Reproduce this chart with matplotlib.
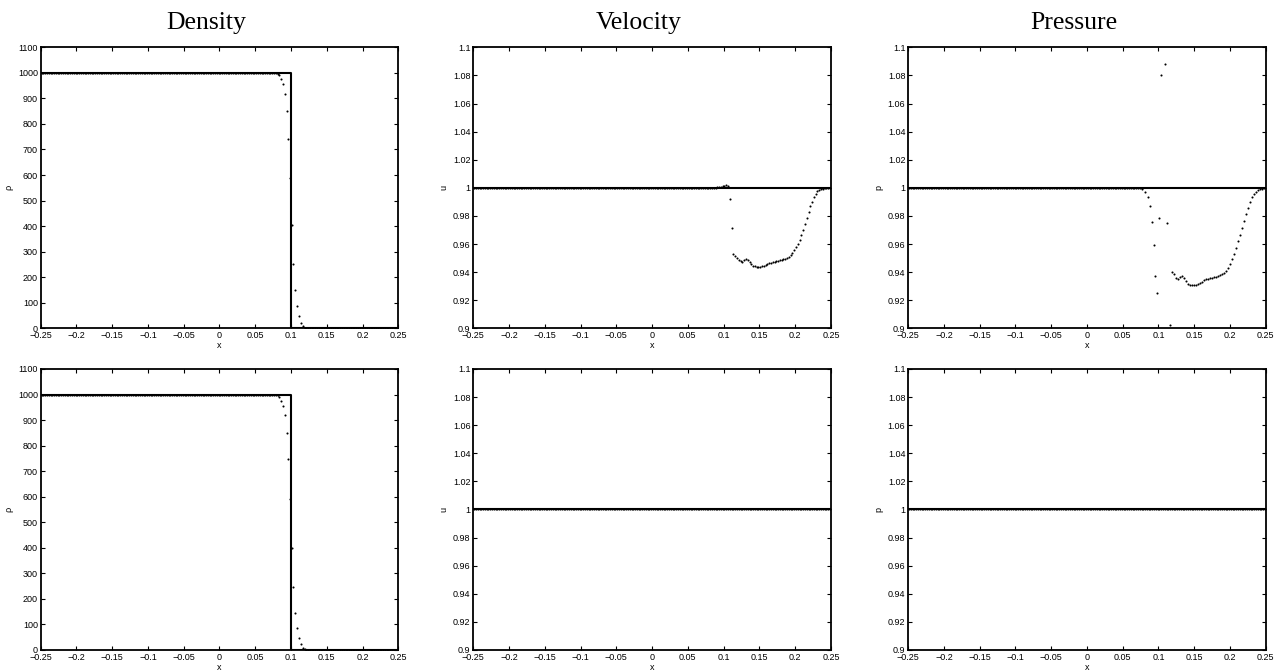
import numpy as np
import matplotlib.pyplot as plt

plt.rcParams['font.family'] = ['Liberation Sans', 'DejaVu Sans']

# mesh of cell centres (flat parts of the numerical solution)
grid = np.linspace(-0.24875, 0.24875, 200)

xticks = [-0.25, -0.2, -0.15, -0.1, -0.05, 0, 0.05, 0.1, 0.15, 0.2, 0.25]
rho_ticks = [0, 100, 200, 300, 400, 500, 600, 700, 800, 900, 1000, 1100]
one_ticks = [0.9, 0.92, 0.94, 0.96, 0.98, 1.0, 1.02, 1.04, 1.06, 1.08, 1.1]

# exact solutions
rho_exact_x = [-0.25, 0.1, 0.1, 0.25]
rho_exact = [1000, 1000, 0, 0]
one_exact_x = [-0.25, 0.25]
one_exact = [1, 1]

# density, shock region (row 1 and row 2)
rho_x = [0.0813, 0.0838, 0.0860, 0.0885, 0.0913, 0.0940, 0.0964, 0.0987, 0.1011,
         0.1034, 0.1060, 0.1085, 0.1110, 0.1137, 0.1165, 0.1190, 0.1215]
rho_top = [997, 990, 975, 955, 916, 849, 743, 590, 403, 250, 149, 86, 47, 21, 8, 3, 1]
rho_bot = [997, 990, 976, 956, 918, 851, 746, 590, 400, 246, 146, 85, 48, 23, 9, 3, 1]

# velocity, row 1
vel_x = [0.09125, 0.09375, 0.09625, 0.09875, 0.10125, 0.10375, 0.10625, 0.10875,
         0.11125, 0.11375, 0.11625, 0.11875, 0.12125, 0.12375, 0.12625, 0.12875,
         0.13125, 0.13375, 0.13625, 0.13875, 0.14125, 0.14375, 0.14625, 0.14875,
         0.15125, 0.15375, 0.15625, 0.15875, 0.16125, 0.16375, 0.16625, 0.16875,
         0.17125, 0.17375, 0.17625, 0.17875, 0.18125, 0.18375, 0.18625, 0.18875,
         0.19125, 0.19375, 0.19625, 0.19875, 0.20125, 0.20375, 0.20625, 0.20875,
         0.21125, 0.21375, 0.21625, 0.21875, 0.22125, 0.22375, 0.22625, 0.22875,
         0.23125, 0.23375, 0.23625, 0.23875, 0.24125, 0.24375, 0.24625, 0.24875]
vel_top = [1.0005, 1.0007, 1.0008, 1.0010, 1.0013, 1.0022, 1.0011, 0.9920,
           0.9715, 0.9530, 0.9515, 0.9498, 0.9486, 0.9478, 0.9475, 0.9487,
           0.9494, 0.9489, 0.9473, 0.9457, 0.9446, 0.9440, 0.9438, 0.9437,
           0.9438, 0.9441, 0.9446, 0.9452, 0.9458, 0.9463, 0.9467, 0.9471,
           0.9474, 0.9478, 0.9481, 0.9485, 0.9488, 0.9492, 0.9496, 0.9501,
           0.9510, 0.9522, 0.9537, 0.9556, 0.9578, 0.9603, 0.9632, 0.9666,
           0.9702, 0.9743, 0.9788, 0.9830, 0.9868, 0.9902, 0.9933, 0.9957,
           0.9974, 0.9984, 0.9990, 0.9994, 0.9996, 0.9998, 0.9999, 1.0000]

# pressure, row 1
prs_x = [0.0765, 0.0812, 0.0849, 0.0887, 0.0910, 0.0934, 0.0958, 0.0986, 0.1014,
         0.1037, 0.1093, 0.1113, 0.1159, 0.1187, 0.1215, 0.1244, 0.1272, 0.1300,
         0.1328, 0.1356, 0.1385, 0.1413, 0.1441, 0.1469, 0.1497, 0.1525, 0.1554,
         0.1582, 0.1610, 0.1638, 0.1666, 0.1694, 0.1723, 0.1751, 0.1779, 0.1807,
         0.1835, 0.1863, 0.1892, 0.1920, 0.1948, 0.1976, 0.2004, 0.2032, 0.2061,
         0.2089, 0.2117, 0.2145, 0.2173, 0.2201, 0.2230, 0.2258, 0.2286, 0.2314,
         0.2342, 0.2370, 0.2398, 0.2426, 0.2454, 0.2482]
prs_top = [0.9991, 0.9972, 0.9932, 0.9870, 0.9759, 0.9591, 0.9372, 0.9253, 0.9787,
           1.0805, 1.0879, 0.9747, 0.9026, 0.9403, 0.9384, 0.9360, 0.9353, 0.9367,
           0.9375, 0.9356, 0.9335, 0.9315, 0.9310, 0.9308, 0.9308, 0.9310, 0.9315,
           0.9322, 0.9332, 0.9342, 0.9349, 0.9353, 0.9358, 0.9360, 0.9365, 0.9367,
           0.9375, 0.9379, 0.9386, 0.9396, 0.9410, 0.9429, 0.9458, 0.9491, 0.9529,
           0.9572, 0.9619, 0.9666, 0.9712, 0.9762, 0.9813, 0.9858, 0.9899, 0.9932,
           0.9956, 0.9972, 0.9983, 0.9990, 0.9995, 0.9998]

titles = ['Density', 'Velocity', 'Pressure']

fig = plt.figure(figsize=(12.84, 6.71), dpi=100)
lefts = [0.0317, 0.3686, 0.7073]
bottoms = [0.5107, 0.0313]
w, h = 0.2785, 0.4188


def fmt(v):
    return f'{v:g}'.replace('-', '\u2212')


def setup(ax, ylim, yticks, ylabel):
    ax.set_xlim(-0.25, 0.25)
    ax.set_ylim(*ylim)
    ax.set_xticks(xticks)
    ax.set_xticklabels([fmt(t) for t in xticks])
    ax.set_yticks(yticks)
    ax.set_yticklabels([fmt(t) for t in yticks])
    ax.tick_params(direction='in', top=True, right=True, length=3, width=0.8,
                   labelsize=6.5, pad=2)
    for s in ax.spines.values():
        s.set_linewidth(1.3)
    ax.set_xlabel('x', fontsize=6.5, labelpad=1)
    ax.set_ylabel(ylabel, fontsize=6.5, labelpad=3)


def dots(ax, x, y):
    ax.plot(x, y, 'o', color='k', ms=1.5, mew=0, zorder=3)


for r in range(2):
    # density
    ax = fig.add_axes([lefts[0], bottoms[r], w, h])
    setup(ax, (0, 1100), rho_ticks, '\u03c1')
    ax.plot(rho_exact_x, rho_exact, 'k-', lw=1.5)
    rv = rho_top if r == 0 else rho_bot
    left = grid[grid < rho_x[0]]
    right = grid[grid > rho_x[-1]]
    dots(ax, left, np.full(len(left), 1000))
    dots(ax, rho_x, rv)
    dots(ax, right, np.zeros(len(right)))

    # velocity
    ax = fig.add_axes([lefts[1], bottoms[r], w, h])
    setup(ax, (0.9, 1.1), one_ticks, 'u')
    ax.plot(one_exact_x, one_exact, 'k-', lw=1.5)
    if r == 0:
        left = grid[grid < vel_x[0]]
        dots(ax, left, np.ones(len(left)))
        dots(ax, vel_x, vel_top)
    else:
        dots(ax, grid, np.ones(len(grid)))

    # pressure
    ax = fig.add_axes([lefts[2], bottoms[r], w, h])
    setup(ax, (0.9, 1.1), one_ticks, 'p')
    ax.plot(one_exact_x, one_exact, 'k-', lw=1.5)
    if r == 0:
        left = grid[grid < prs_x[0]]
        dots(ax, left, np.ones(len(left)))
        dots(ax, prs_x, prs_top)
    else:
        dots(ax, grid, np.ones(len(grid)))

for i, t in enumerate(titles):
    cx = lefts[i] + w / 2 - 13 / 1284
    fig.text(cx, 0.957, t, family='Liberation Serif', size=18.5,
             ha='center', va='baseline')

fig.savefig('out.png', dpi=100)
